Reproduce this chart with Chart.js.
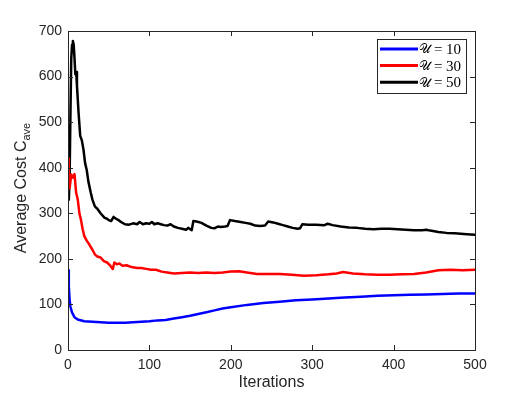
<!DOCTYPE html>
<html lang="en">
<head>
    <meta charset="UTF-8">
    <title>Average Cost</title>
    <script src="https://cdn.jsdelivr.net/npm/chart.js@4.4.0/dist/chart.umd.min.js"></script>
    <style>
        html, body { margin: 0; padding: 0; background: #fff; }
        .wrap { width: 526px; height: 395px; }
    </style>
</head>
<body>
    <div class="wrap">
        <canvas id="cost-chart" width="526" height="395"></canvas>
    </div>

    <script>
        // values
        const seriesSymbol = "𝒰";
        const seriesValues = ["10", "30", "50"];
        const seriesColors = ["#0000ff", "#ff0000", "#000000"];

        const blueIter = [0, 1, 2, 3, 5, 8, 12, 20, 30, 40, 50, 60, 70, 80, 90, 100, 110, 120, 130, 140, 150, 160, 170, 180, 190, 200, 220, 240, 260, 280, 300, 320, 340, 360, 380, 400, 420, 440, 460, 480, 500];
        const blueCost = [175, 140, 110, 95, 82, 72, 67, 63, 62, 61, 60, 60, 60, 61, 62, 63, 65, 66, 69, 72, 75, 79, 83, 87, 91, 94, 99, 103, 106, 109, 111, 113, 115, 117, 119, 120, 121, 122, 123, 124, 124];

        const redIter = [0, 1, 2, 3, 4, 6, 8, 10, 12, 14, 16, 18, 20, 23, 26, 30, 33, 36, 40, 44, 48, 52, 55, 57, 60, 63, 67, 72, 78, 85, 90, 96, 102, 108, 115, 122, 130, 140, 150, 160, 170, 180, 190, 200, 210, 220, 232, 245, 260, 275, 290, 305, 320, 330, 338, 350, 365, 380, 395, 410, 425, 440, 455, 470, 485, 500];
        const redCost = [420, 365, 355, 370, 385, 378, 386, 345, 330, 300, 285, 265, 250, 240, 232, 220, 210, 205, 203, 195, 192, 185, 178, 192, 188, 190, 185, 186, 182, 180, 180, 178, 176, 176, 172, 170, 168, 169, 170, 169, 170, 169, 170, 172, 173, 170, 167, 167, 167, 165, 163, 164, 166, 168, 171, 168, 166, 165, 165, 166, 167, 170, 175, 176, 175, 176];

        const blackIter = [0, 1, 2, 3, 4, 5, 6, 7, 8, 9, 10, 11, 13, 15, 17, 19, 21, 23, 25, 28, 30, 33, 36, 40, 45, 48, 50, 53, 56, 59, 62, 66, 70, 75, 80, 85, 88, 92, 96, 100, 103, 106, 110, 114, 118, 122, 126, 130, 135, 140, 145, 148, 150, 152, 154, 158, 164, 170, 176, 180, 184, 188, 193, 196, 199, 205, 212, 218, 224, 230, 236, 242, 246, 252, 258, 264, 270, 276, 282, 285, 288, 295, 305, 315, 319, 325, 335, 345, 355, 365, 375, 385, 395, 405, 415, 425, 435, 440, 445, 455, 465, 475, 490, 500];
        const blackCost = [340, 330, 380, 520, 640, 670, 678, 670, 640, 605, 610, 580, 520, 470, 460, 440, 410, 395, 370, 345, 330, 315, 310, 300, 290, 288, 285, 283, 292, 288, 285, 280, 276, 275, 278, 276, 281, 276, 278, 277, 281, 276, 278, 276, 274, 273, 276, 271, 268, 266, 264, 268, 265, 263, 283, 282, 279, 273, 268, 267, 271, 270, 271, 272, 285, 283, 281, 279, 277, 273, 272, 273, 282, 280, 277, 274, 271, 268, 266, 267, 276, 275, 275, 274, 277, 274, 271, 269, 268, 266, 265, 266, 266, 265, 264, 263, 263, 264, 262, 259, 257, 256, 254, 253];

        const xTicks = [0, 100, 200, 300, 400, 500];
        const yTicks = [0, 100, 200, 300, 400, 500, 600, 700];

        function toPoints(xs, ys) {
            return xs.map((x, i) => ({ x: x, y: ys[i] }));
        }

        const axisColor = "#262626";

        // matlab style frame, inward ticks, titles and legend
        const matlabLook = {
            id: 'matlabLook',
            afterDraw(chart) {
                const ctx = chart.ctx;
                const a = chart.chartArea;
                const xs = chart.scales.x;
                const ys = chart.scales.y;
                ctx.save();
                ctx.strokeStyle = axisColor;
                ctx.lineWidth = 1;
                ctx.strokeRect(Math.round(a.left) + 0.5, Math.round(a.top) + 0.5, Math.round(a.right - a.left), Math.round(a.bottom - a.top));

                const tl = 5;
                ctx.beginPath();
                xTicks.forEach(v => {
                    const px = Math.round(xs.getPixelForValue(v)) + 0.5;
                    ctx.moveTo(px, a.bottom); ctx.lineTo(px, a.bottom - tl);
                    ctx.moveTo(px, a.top); ctx.lineTo(px, a.top + tl);
                });
                yTicks.forEach(v => {
                    const py = Math.round(ys.getPixelForValue(v)) + 0.5;
                    ctx.moveTo(a.left, py); ctx.lineTo(a.left + tl, py);
                    ctx.moveTo(a.right, py); ctx.lineTo(a.right - tl, py);
                });
                ctx.stroke();

                // axis titles
                ctx.fillStyle = axisColor;
                ctx.font = "16px 'Liberation Sans', Arial, sans-serif";
                ctx.textAlign = 'center';
                ctx.textBaseline = 'middle';
                ctx.fillText('Iterations', (a.left + a.right) / 2, 383);

                ctx.save();
                ctx.translate(26, 188);
                ctx.rotate(-Math.PI / 2);
                ctx.textAlign = 'left';
                ctx.textBaseline = 'alphabetic';
                const main = 'Average Cost C';
                ctx.font = "16px 'Liberation Sans', Arial, sans-serif";
                const w1 = ctx.measureText(main).width;
                ctx.font = "11px 'Liberation Sans', Arial, sans-serif";
                const w2 = ctx.measureText('ave').width;
                const start = -(w1 + w2) / 2;
                ctx.font = "16px 'Liberation Sans', Arial, sans-serif";
                ctx.fillText(main, start, 0);
                ctx.font = "11px 'Liberation Sans', Arial, sans-serif";
                ctx.fillText('ave', start + w1, 4);
                ctx.restore();

                // legend
                const lx = 377, ly = 39, lw = 89, lh = 54;
                ctx.fillStyle = '#fff';
                ctx.fillRect(lx, ly, lw, lh);
                ctx.strokeStyle = axisColor;
                ctx.strokeRect(lx + 0.5, ly + 0.5, lw, lh);
                chart.data.datasets.forEach((ds, i) => {
                    const y = 49 + i * 16.6;
                    ctx.strokeStyle = ds.borderColor;
                    ctx.lineWidth = 3;
                    ctx.beginPath();
                    ctx.moveTo(380, y); ctx.lineTo(418, y);
                    ctx.stroke();
                    ctx.fillStyle = '#000';
                    ctx.textAlign = 'left';
                    ctx.textBaseline = 'middle';
                    ctx.font = "13px 'DejaVu Serif', 'Liberation Serif', serif";
                    const sw = ctx.measureText(seriesSymbol).width;
                    ctx.fillText(seriesSymbol, 419, y + 1);
                    ctx.font = "15px 'Liberation Serif', serif";
                    const eqX = 419 + sw + 3;
                    ctx.fillText('=', eqX, y + 1);
                    ctx.textAlign = 'right';
                    ctx.fillText(seriesValues[i], 461, y + 1);
                });
                ctx.restore();
            }
        };

        new Chart(document.getElementById('cost-chart'), {
            type: 'line',
            data: {
                datasets: seriesColors.map((c, i) => ({
                    label: seriesSymbol + ' = ' + seriesValues[i],
                    data: [toPoints(blueIter, blueCost), toPoints(redIter, redCost), toPoints(blackIter, blackCost)][i],
                    borderColor: c
                }))
            },
            options: {
                responsive: false,
                animation: false,
                events: [],
                layout: { padding: { left: 0, right: 51, top: 31, bottom: 0 } },
                elements: {
                    line: { borderWidth: 2.5, tension: 0, fill: false, borderJoinStyle: 'round', borderCapStyle: 'round' },
                    point: { radius: 0 }
                },
                plugins: {
                    legend: { display: false },
                    tooltip: { enabled: false }
                },
                scales: {
                    x: {
                        type: 'linear',
                        min: 0,
                        max: 500,
                        afterFit: (s) => { s.height = 45; },
                        afterBuildTicks: (s) => { s.ticks = xTicks.map(v => ({ value: v })); },
                        grid: { display: false, drawTicks: false },
                        border: { display: false },
                        ticks: { color: axisColor, padding: 7, font: { family: "'Liberation Sans', Arial, sans-serif", size: 14 } }
                    },
                    y: {
                        min: 0,
                        max: 700,
                        afterFit: (s) => { s.width = 68; },
                        afterBuildTicks: (s) => { s.ticks = yTicks.map(v => ({ value: v })); },
                        grid: { display: false, drawTicks: false },
                        border: { display: false },
                        ticks: { color: axisColor, padding: 6, font: { family: "'Liberation Sans', Arial, sans-serif", size: 14 } }
                    }
                }
            },
            plugins: [matlabLook]
        });
    </script>
</body>
</html>
